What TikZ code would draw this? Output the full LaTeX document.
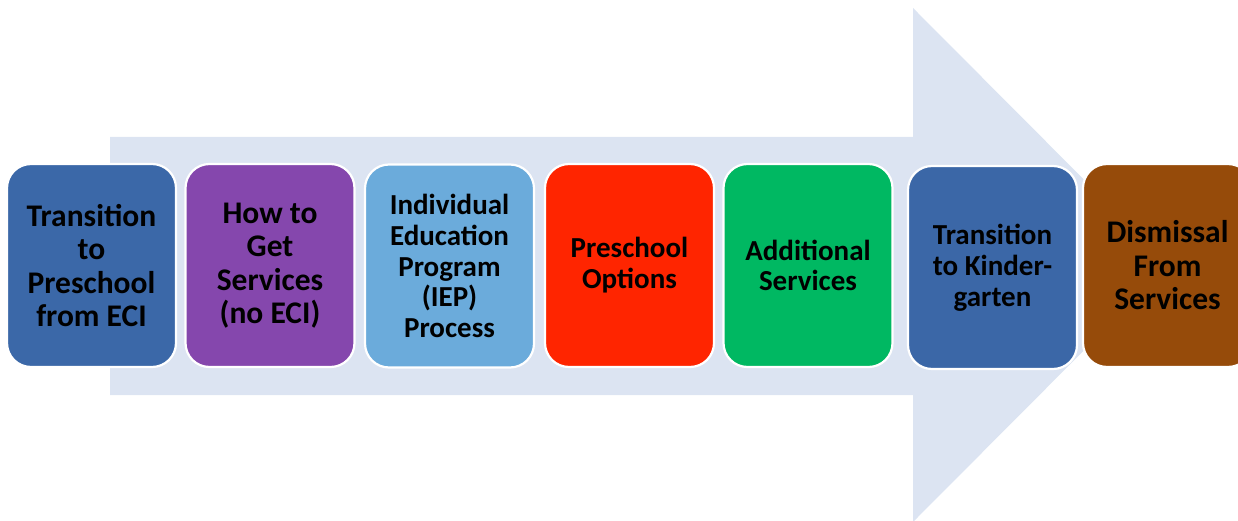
\documentclass[tikz,border=0pt]{standalone}
\usepackage{fontspec}
\setmainfont{Carlito}
\definecolor{arrowc}{HTML}{DCE4F2}
\definecolor{cA}{HTML}{3B68A8}
\definecolor{cB}{HTML}{8547AD}
\definecolor{cC}{HTML}{6BABDB}
\definecolor{cD}{HTML}{FF2500}
\definecolor{cE}{HTML}{00B862}
\definecolor{cF}{HTML}{3B67A7}
\definecolor{cG}{HTML}{964B0A}
\tikzset{
  stepbox/.style={draw=white, line width=2.2pt, rounded corners=24pt,
    minimum width=169pt, minimum height=203pt, inner sep=0pt,
    align=center, font=\bfseries, text=black},
  big/.style={font=\fontsize{31.5pt}{33.5pt}\selectfont\bfseries},
  small/.style={font=\fontsize{29pt}{30.8pt}\selectfont\bfseries}
}
\begin{document}
\begin{tikzpicture}[x=1pt,y=-1pt]
\useasboundingbox (0,0) rectangle (1238,521);
\clip (0,0) rectangle (1238,521);
\fill[arrowc] (110,137) -- (913,137) -- (913,8) -- (1169,265) -- (913,522) -- (913,395) -- (110,395) -- cycle;
\node[stepbox, big, fill=cA] (b1) at (91.5,265.5) {Transition\\to\\Preschool\\from ECI};
\node[stepbox, big, fill=cB] (b2) at (270,265.5) {How to\\Get\\Services\\(no ECI)};
\node[stepbox, small, fill=cC] (b3) at (449.5,266) {Individual\\Education\\Program\\(IEP)\\Process};
\node[stepbox, small, fill=cD] (b4) at (629.5,265.5) {Preschool\\Options};
\node[stepbox, small, fill=cE] (b5) at (808,265.5) {Additional\\Services};
\node[stepbox, small, fill=cF] (b6) at (992.5,267.5) {Transition\\to Kinder-\\garten};
\node[stepbox, big, fill=cG] (b7) at (1167.5,265.5) {Dismissal\\From\\Services};
\end{tikzpicture}
\end{document}
